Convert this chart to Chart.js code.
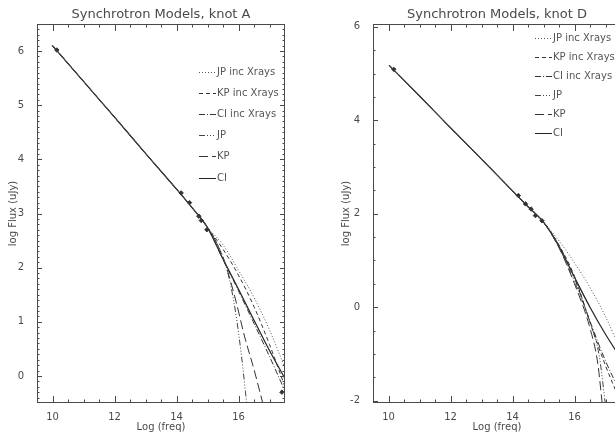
<!DOCTYPE html>
<html><head><meta charset="utf-8">
<script src="https://cdn.jsdelivr.net/npm/chart.js@4/dist/chart.umd.min.js"></script>
<style>
html,body{margin:0;padding:0;background:#fff;overflow:hidden;width:615px;height:435px;}
#wrapA{position:absolute;left:0;top:0;width:300px;height:435px;}
#wrapD{position:absolute;left:305px;top:0;width:330px;height:435px;}
</style></head><body>
<div id="wrapA"><canvas id="cA" width="300" height="435"></canvas></div>
<div id="wrapD"><canvas id="cD" width="330" height="435"></canvas></div>
<script>
// ---------- Knot A ----------
const legendLabels = ['JP inc Xrays', 'KP inc Xrays', 'CI inc Xrays', 'JP', 'KP', 'CI'];

const freqA_JPX = [10.0, 11.0, 12.0, 13.0, 14.0, 14.5, 15.0, 15.5, 16.0, 16.5, 17.0, 17.5];
const fluxA_JPX = [6.10, 5.44, 4.78, 4.11, 3.45, 3.11, 2.74, 2.42, 1.95, 1.45, 0.85, 0.15];
const freqA_KPX = [10.0, 11.0, 12.0, 13.0, 14.0, 14.5, 15.0, 15.5, 16.0, 16.5, 17.0, 17.5];
const fluxA_KPX = [6.10, 5.44, 4.78, 4.11, 3.45, 3.11, 2.74, 2.34, 1.86, 1.28, 0.58, -0.20];
const freqA_CIX = [10.0, 11.0, 12.0, 13.0, 14.0, 14.5, 15.0, 15.5, 16.0, 16.5, 17.0, 17.5];
const fluxA_CIX = [6.10, 5.44, 4.78, 4.11, 3.45, 3.11, 2.74, 2.15, 1.57, 0.97, 0.36, -0.28];
const freqA_JP  = [10.0, 11.0, 12.0, 13.0, 14.0, 14.5, 15.0, 15.3, 15.5, 15.7, 15.9, 16.1, 16.3];
const fluxA_JP  = [6.10, 5.44, 4.78, 4.11, 3.45, 3.11, 2.74, 2.45, 2.20, 1.80, 1.20, 0.35, -0.70];
const freqA_KP  = [10.0, 11.0, 12.0, 13.0, 14.0, 14.5, 15.0, 15.3, 15.6, 15.9, 16.2, 16.5, 16.8];
const fluxA_KP  = [6.10, 5.44, 4.78, 4.11, 3.45, 3.11, 2.74, 2.45, 2.02, 1.42, 0.72, 0.12, -0.54];
const freqA_CI  = [10.0, 11.0, 12.0, 13.0, 14.0, 14.5, 15.0, 15.5, 16.0, 16.5, 17.0, 17.5];
const fluxA_CI  = [6.10, 5.44, 4.78, 4.11, 3.45, 3.11, 2.74, 2.16, 1.60, 1.03, 0.47, -0.05];
const freqA_obs = [10.14, 14.15, 14.42, 14.72, 14.80, 14.98, 17.40];
const fluxA_obs = [6.02, 3.38, 3.20, 2.95, 2.87, 2.70, -0.30];

// ---------- Knot D ----------
const freqD_JPX = [10.03, 11.0, 12.0, 13.0, 14.0, 14.5, 15.0, 15.5, 16.0, 16.5, 17.0, 17.5];
const fluxD_JPX = [5.17, 4.52, 3.84, 3.17, 2.49, 2.15, 1.82, 1.42, 0.95, 0.42, -0.20, -0.95];
const freqD_KPX = [10.03, 11.0, 12.0, 13.0, 14.0, 14.5, 15.0, 15.5, 16.0, 16.5, 17.0, 17.5];
const fluxD_KPX = [5.17, 4.52, 3.84, 3.17, 2.49, 2.15, 1.82, 1.33, 0.66, -0.33, -1.25, -2.05];
const freqD_CIX = [10.03, 11.0, 12.0, 13.0, 14.0, 14.5, 15.0, 15.5, 16.0, 16.5, 17.0, 17.5];
const fluxD_CIX = [5.17, 4.52, 3.84, 3.17, 2.49, 2.15, 1.82, 1.32, 0.62, -0.30, -1.15, -1.85];
const freqD_JP  = [10.03, 11.0, 12.0, 13.0, 14.0, 14.5, 15.0, 15.5, 16.0, 16.5, 16.8, 17.0];
const fluxD_JP  = [5.17, 4.52, 3.84, 3.17, 2.49, 2.15, 1.82, 1.28, 0.55, -0.32, -1.05, -2.10];
const freqD_KP  = [10.03, 11.0, 12.0, 13.0, 14.0, 14.5, 15.0, 15.5, 16.0, 16.5, 16.75, 16.9];
const fluxD_KP  = [5.17, 4.52, 3.84, 3.17, 2.49, 2.15, 1.82, 1.27, 0.50, -0.45, -1.20, -2.10];
const freqD_CI  = [10.03, 11.0, 12.0, 13.0, 14.0, 14.5, 15.0, 15.5, 16.0, 16.5, 17.0, 17.5];
const fluxD_CI  = [5.17, 4.52, 3.84, 3.17, 2.49, 2.15, 1.82, 1.30, 0.64, 0.00, -0.58, -1.10];
const freqD_obs = [10.17, 14.19, 14.42, 14.60, 14.74, 14.95];
const fluxD_obs = [5.09, 2.39, 2.21, 2.10, 1.96, 1.85];

// ---------- Ticks ----------
const xTicks  = [10, 12, 14, 16];
const yTicksA = [0, 1, 2, 3, 4, 5, 6];
const yTicksD = [-2, 0, 2, 4, 6];

const FONT = "'DejaVu Sans', sans-serif";
const INK = '#4a4a4a';
const dashes = [[1, 2], [4, 3], [6, 2, 1, 2], [6, 2, 1, 2, 1, 2, 1, 2], [9, 4], []];
const lineColors = ['#555', '#333', '#333', '#444', '#333', '#222'];

function pts(xs, ys) { return xs.map((v, i) => ({x: v, y: ys[i]})); }

function buildDatasets(series, obs) {
  const ds = series.map((s, i) => ({
    label: legendLabels[i],
    data: pts(s[0], s[1]),
    borderColor: lineColors[i],
    borderWidth: i === 5 ? 1.2 : 1,
    borderDash: dashes[i],
    pointRadius: 0,
    fill: false,
    cubicInterpolationMode: 'monotone',
    inLegend: true
  }));
  ds.push({
    label: 'data',
    data: pts(obs[0], obs[1]),
    showLine: false,
    pointStyle: 'rectRot',
    pointRadius: 2.2,
    backgroundColor: '#333',
    borderColor: '#333',
    borderWidth: 1
  });
  return ds;
}

const idlAxes = {
  id: 'idlAxes',
  afterDatasetsDraw(chart, args, o) {
    const {ctx, chartArea: a, scales: {x, y}} = chart;
    ctx.save();
    ctx.strokeStyle = INK;
    ctx.lineWidth = 1;
    ctx.strokeRect(Math.round(a.left) + 0.5, Math.round(a.top) + 0.5,
                   Math.round(a.right - a.left) - 1, Math.round(a.bottom - a.top) - 1);
    const seg = (x1, y1, x2, y2) => { ctx.beginPath(); ctx.moveTo(x1, y1); ctx.lineTo(x2, y2); ctx.stroke(); };
    const xt = (v, len) => {
      const p = Math.round(x.getPixelForValue(v)) + 0.5;
      if (p < a.left || p > a.right) return;
      seg(p, a.bottom, p, a.bottom - len);
      seg(p, a.top, p, a.top + len);
    };
    const yt = (v, len) => {
      const p = Math.round(y.getPixelForValue(v)) + 0.5;
      if (p < a.top || p > a.bottom) return;
      seg(a.left, p, a.left + len, p);
      seg(a.right, p, a.right - len, p);
    };
    for (let v = Math.ceil(x.min / o.xMinor) * o.xMinor; v <= x.max + 1e-9; v += o.xMinor) xt(v, 3.5);
    for (let k = Math.ceil(y.min / o.yMinor); k * o.yMinor <= y.max + 1e-9; k++) yt(k * o.yMinor, 2.5);
    o.xMajor.forEach(v => xt(v, 7));
    o.yMajor.forEach(v => yt(v, 5));
    ctx.restore();
  }
};

const idlLegend = {
  id: 'idlLegend',
  afterDraw(chart, args, o) {
    const {ctx, chartArea: a} = chart;
    ctx.save();
    ctx.font = '10px ' + FONT;
    ctx.textBaseline = 'middle';
    ctx.fillStyle = '#555';
    let row = 0;
    chart.data.datasets.forEach(ds => {
      if (!ds.inLegend) return;
      const yy = Math.round(a.top + o.top + row * o.step) + 0.5;
      const x0 = a.left + o.left;
      ctx.strokeStyle = ds.borderColor;
      ctx.lineWidth = 1;
      ctx.setLineDash(ds.borderDash);
      ctx.beginPath(); ctx.moveTo(x0, yy); ctx.lineTo(x0 + 17, yy); ctx.stroke();
      ctx.setLineDash([]);
      ctx.fillText(ds.label, x0 + 18, yy);
      row++;
    });
    ctx.restore();
  }
};

function makeChart(id, title, datasets, yMin, yMax, yTicks, yMinor, yAxisWidth, yTitlePad, padRight, legendPos) {
  return new Chart(document.getElementById(id), {
    type: 'line',
    data: {datasets},
    plugins: [idlAxes, idlLegend],
    options: {
      responsive: false,
      animation: false,
      layout: {padding: {left: 0, right: padRight, top: 0, bottom: 0}},
      plugins: {
        legend: {display: false},
        tooltip: {enabled: false},
        title: {
          display: true, text: title, color: INK, fullSize: false,
          font: {family: FONT, size: 13, weight: 'normal'},
          padding: {top: 7, bottom: 1.4}
        },
        idlAxes: {xMinor: 0.5, yMinor: yMinor, xMajor: xTicks, yMajor: yTicks},
        idlLegend: legendPos
      },
      scales: {
        x: {
          type: 'linear', min: 9.5, max: 17.5,
          grid: {display: false}, border: {display: false},
          afterBuildTicks: s => { s.ticks = xTicks.map(v => ({value: v})); },
          afterFit: s => { s.height = 32; s.paddingLeft = 0; s.paddingRight = 0; },
          ticks: {color: INK, font: {family: FONT, size: 10}, padding: 0, maxRotation: 0,
                  callback: v => String(v)},
          title: {display: true, text: 'Log (freq)', color: INK,
                  font: {family: FONT, size: 10}, padding: {top: 0, bottom: 2}}
        },
        y: {
          type: 'linear', min: yMin, max: yMax,
          grid: {display: false}, border: {display: false},
          afterBuildTicks: s => { s.ticks = yTicks.map(v => ({value: v})); },
          afterFit: s => { s.width = yAxisWidth; s.paddingTop = 0; s.paddingBottom = 0; },
          ticks: {color: INK, font: {family: FONT, size: 10}, padding: 5,
                  callback: v => String(v)},
          title: {display: true, text: 'log Flux (uJy)', color: INK,
                  font: {family: FONT, size: 10}, padding: {top: yTitlePad, bottom: 0}}
        }
      }
    }
  });
}

makeChart('cA', 'Synchrotron Models, knot A',
  buildDatasets([[freqA_JPX, fluxA_JPX], [freqA_KPX, fluxA_KPX], [freqA_CIX, fluxA_CIX],
                 [freqA_JP, fluxA_JP], [freqA_KP, fluxA_KP], [freqA_CI, fluxA_CI]],
                [freqA_obs, fluxA_obs]),
  -0.5, 6.5, yTicksA, 0.1, 37, 7, 15, {left: 162, top: 47.5, step: 21.2});

makeChart('cD', 'Synchrotron Models, knot D',
  buildDatasets([[freqD_JPX, fluxD_JPX], [freqD_KPX, fluxD_KPX], [freqD_CIX, fluxD_CIX],
                 [freqD_JP, fluxD_JP], [freqD_KP, fluxD_KP], [freqD_CI, fluxD_CI]],
                [freqD_obs, fluxD_obs]),
  -2.05, 6.06, yTicksD, 0.5, 68, 35, 14, {left: 162, top: 14, step: 18.9});
</script>
</body></html>
